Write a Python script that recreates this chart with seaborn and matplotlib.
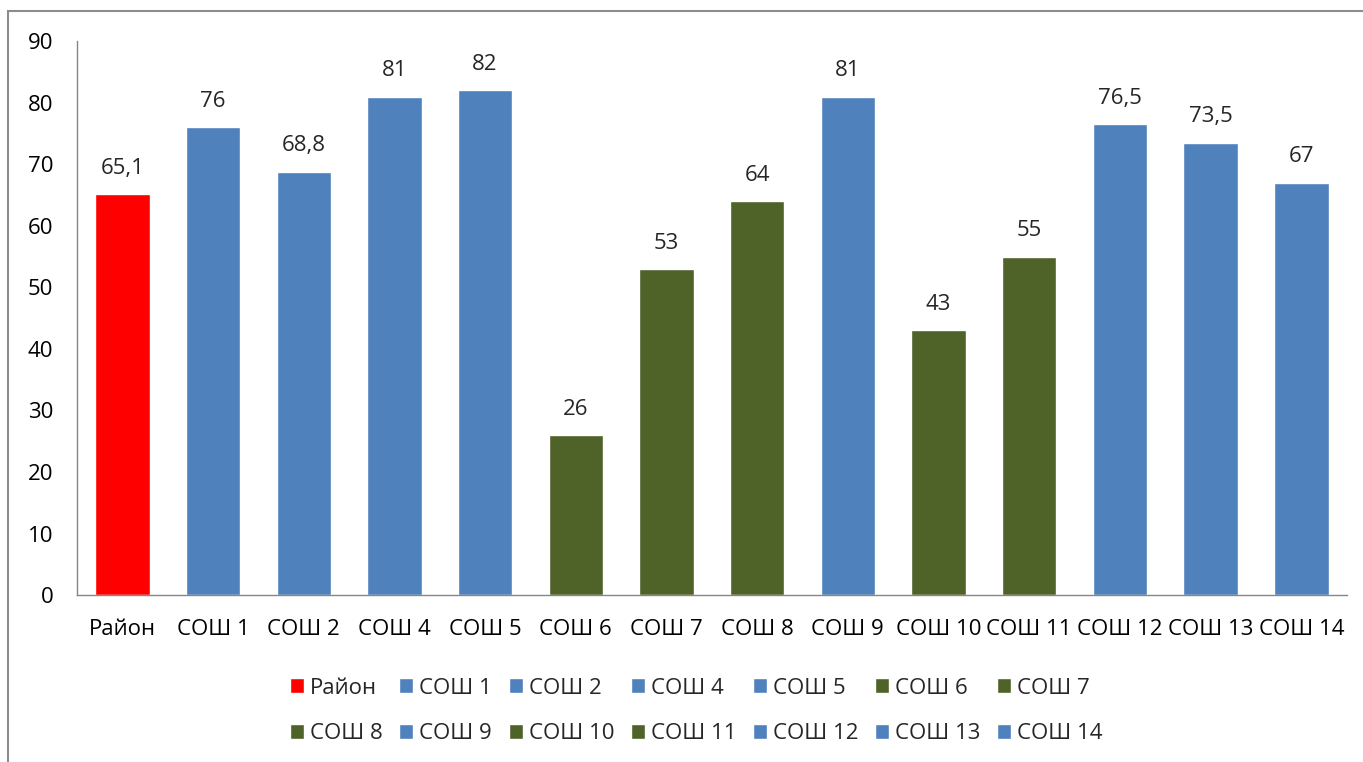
import matplotlib
matplotlib.use('Agg')
import matplotlib.pyplot as plt
import matplotlib.patches as mpatches
import pandas as pd
import seaborn as sns

# data
schools = ['Район', 'СОШ 1', 'СОШ 2', 'СОШ 4', 'СОШ 5', 'СОШ 6', 'СОШ 7',
           'СОШ 8', 'СОШ 9', 'СОШ 10', 'СОШ 11', 'СОШ 12', 'СОШ 13', 'СОШ 14']
scores = [65.1, 76, 68.8, 81, 82, 26, 53, 64, 81, 43, 55, 76.5, 73.5, 67]
groups = ['red', 'blue', 'blue', 'blue', 'blue', 'green', 'green',
          'green', 'blue', 'green', 'green', 'blue', 'blue', 'blue']

group_colors = {'red': '#FF0000', 'blue': '#4F81BD', 'green': '#4F6228'}
palette = {s: group_colors[g] for s, g in zip(schools, groups)}

df = pd.DataFrame({'school': schools, 'score': scores})

sns.set_style('white')
plt.rcParams['font.family'] = ['Open Sans', 'DejaVu Sans']

fig = plt.figure(figsize=(13.63, 7.62), dpi=100)
ax = fig.add_axes([0.0565, 0.219, 0.9315, 0.727])

sns.barplot(data=df, x='school', y='score', hue='school', palette=palette,
            width=0.6, saturation=1, legend=True, ax=ax)

ax.set_ylim(0, 90)
ax.set_yticks(range(0, 91, 10))
ax.set_xlim(-0.5, len(schools) - 0.5)
ax.set_xlabel('')
ax.set_ylabel('')
ax.tick_params(axis='both', length=0, labelsize=16, colors='black')
ax.tick_params(axis='y', pad=17)
ax.tick_params(axis='x', pad=17)

for side in ['top', 'right']:
    ax.spines[side].set_visible(False)
for side in ['left', 'bottom']:
    ax.spines[side].set_color('#868686')
    ax.spines[side].set_linewidth(1)

def fmt(v):
    if float(v).is_integer():
        return str(int(v))
    return str(v).replace('.', ',')

for cont, v in zip(ax.containers, scores):
    ax.bar_label(cont, labels=[fmt(v)], padding=11, fontsize=16)

# legend fills column-wise, so interleave to get row-wise order (2 rows x 7)
handles, labels = ax.get_legend_handles_labels()
ax.get_legend().remove()
order = []
for c in range(7):
    order += [c, c + 7]
handles = [handles[i] for i in order]
labels = [labels[i] for i in order]
fig.legend(handles, labels, ncol=7, loc='center', bbox_to_anchor=(0.511, 0.067),
           frameon=False, fontsize=16, handlelength=0.63, handleheight=0.63,
           handletextpad=0.27, columnspacing=0.75, labelspacing=1.12)

# outer frame like the source image
frame = mpatches.Rectangle((0.006, -0.01), 1.0, 0.9956, transform=fig.transFigure,
                           fill=False, edgecolor='#8c8c8c', linewidth=1.5)
fig.patches.append(frame)

fig.savefig('out.png', dpi=100)
